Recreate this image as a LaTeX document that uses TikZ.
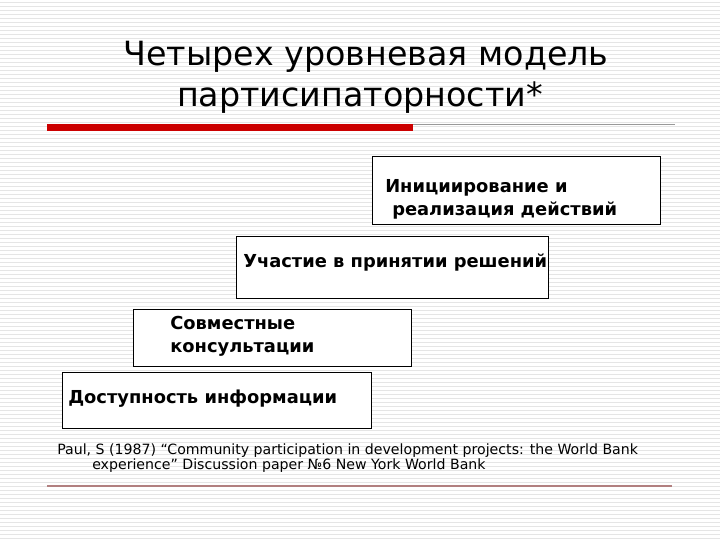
\documentclass[tikz,border=0pt]{standalone}
\usepackage{fontspec}
\setmainfont{DejaVu Sans}
\begin{document}
\begin{tikzpicture}[x=0.75pt,y=-0.75pt,
  lvl/.style={draw=black,line width=0.7pt,fill=white},
  btxt/.style={anchor=west,font=\bfseries\fontsize{13.4}{17.3}\selectfont,align=left,inner sep=0},
  ttl/.style={font=\fontsize{25}{28}\selectfont,inner sep=0}]
\useasboundingbox (0,0) rectangle (720,540);
\fill[white] (0,0) rectangle (720,540);
\foreach \y in {2,6,...,538} \draw[black!10,line width=0.6pt] (0,\y) -- (720,\y);
\node[ttl] (t1) at (366,57) {Четырех уровневая модель};
\node[ttl] (t2) at (360,98) {партисипаторности*};
\fill[red!80!black] (47,124) rectangle (413,131);
\draw[black!40,line width=0.6pt] (413,124) -- (675,124);
\draw[lvl] (372,156) rectangle (660,224);
\node[btxt] (b1a) at (385,188) {Инициирование и};
\node[btxt] (b1b) at (392,211) {реализация действий};
\draw[lvl] (236,236) rectangle (548,298);
\node[btxt] (b2) at (243,263) {Участие в принятии решений};
\draw[lvl] (133,309) rectangle (411,366);
\node[btxt] (b3) at (170,336) {Совместные\\консультации};
\draw[lvl] (62,372) rectangle (371,428);
\node[btxt] (b4) at (68,399) {Доступность информации};
\node[anchor=west,inner sep=0,font=\fontsize{10.6}{12}\selectfont] (c1) at (57,451) {Paul, S (1987) “Community participation in development projects: the World Bank};
\node[anchor=west,inner sep=0,font=\fontsize{10.6}{12}\selectfont] (c2) at (92,466) {experience” Discussion paper №6 New York World Bank};
\draw[red!40!black!50,line width=0.8pt] (47,486) -- (672,486);
\end{tikzpicture}
\end{document}
